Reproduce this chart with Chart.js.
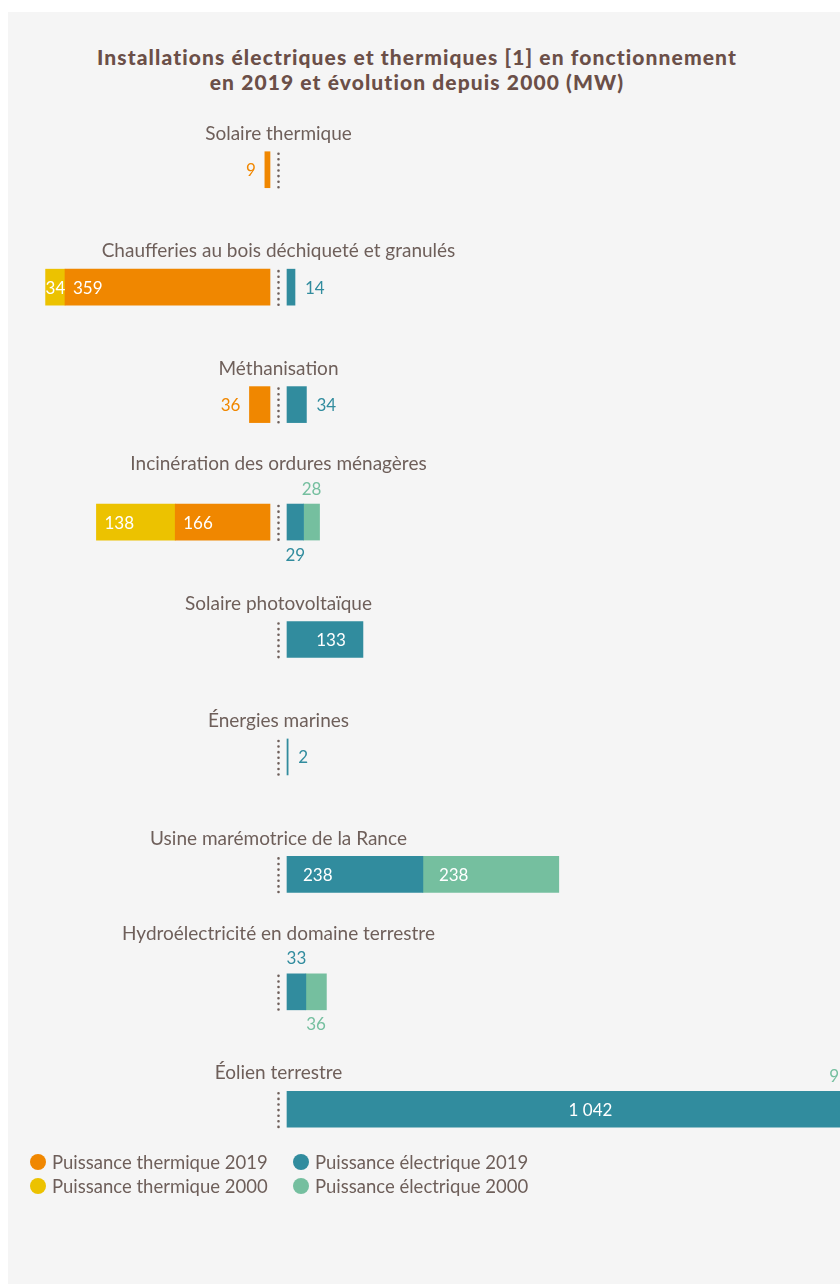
<!DOCTYPE html>
<html lang="fr">
<head>
<meta charset="utf-8">
<script src="https://cdn.jsdelivr.net/npm/chart.js@4.4.1/dist/chart.umd.min.js"></script>
<style>
  html, body { margin: 0; padding: 0; background: #fff; }
  body { width: 840px; height: 1284px; position: relative; overflow: hidden; font-family: Lato, sans-serif; }
  #card { position: absolute; left: 8px; top: 12px; right: 0; bottom: 0; background: #f5f5f5; }
  #title { position: absolute; left: 0; width: 834px; top: 44px; text-align: center;
           font-family: "Lato Black", Lato, sans-serif; font-weight: 900; font-size: 21px; line-height: 25px;
           letter-spacing: 1.1px; color: #6b4f48; }
  #chartWrap { position: absolute; left: 0; top: 111px; width: 840px; height: 1057px; }
  #legend { position: absolute; left: 30px; top: 1150px; display: grid;
            grid-template-columns: 263px auto; grid-auto-rows: 24px; }
  .item { display: flex; align-items: center; font-size: 18.5px; color: #6e5f5a; white-space: nowrap; }
  .dot { width: 16px; height: 16px; border-radius: 50%; margin-right: 6px; }
</style>
</head>
<body>
<div id="card"></div>
<div id="title">Installations électriques et thermiques [1] en fonctionnement<br>en 2019 et évolution depuis 2000 (MW)</div>
<div id="chartWrap"><canvas id="chart" width="840" height="1057"></canvas></div>
<div id="legend"></div>

<script>
const categories = [
  'Solaire thermique',
  'Chaufferies au bois déchiqueté et granulés',
  'Méthanisation',
  'Incinération des ordures ménagères',
  'Solaire photovoltaïque',
  'Énergies marines',
  'Usine marémotrice de la Rance',
  'Hydroélectricité en domaine terrestre',
  'Éolien terrestre'
];
const thermal2019 = [9, 359, 36, 166, null, null, null, null, null];
const thermal2000 = [null, 34, null, 138, null, null, null, null, null];
const elec2019 = [null, 14, 34, 29, 133, 2, 238, 33, 1042];
const elec2000 = [null, null, null, 28, null, null, 238, 36, 9];

const seriesNames = ['Puissance thermique 2019', 'Puissance thermique 2000', 'Puissance électrique 2019', 'Puissance électrique 2000'];
const colors = ['#f08700', '#ecc200', '#318c9e', '#75bf9f'];
const TEXT = '#6e5f5a';

// layout: thermal grows left from x=270, electric grows right from x=287
const W = 840;
const ZERO_T = 270, ZERO_E = 287, PX_PER_MW = 0.571;
const BAR = 36;
// where the 2019 label goes when both electric segments are too thin (else 2000 takes that side)
const label2019Above = [false, false, false, false, false, false, false, true, false];

function fmt(v) {
  if (v >= 1000) return Math.floor(v / 1000) + ' ' + String(v % 1000).padStart(3, '0');
  return String(v);
}

const rowLabels = {
  id: 'rowLabels',
  afterDatasetsDraw(chart) {
    const ctx = chart.ctx;
    const xT = chart.scales.xT, xE = chart.scales.xE, y = chart.scales.y;
    const mid = (xT.getPixelForValue(0) + xE.getPixelForValue(0)) / 2;
    ctx.save();
    ctx.textBaseline = 'middle';

    categories.forEach((name, i) => {
      const yc = y.getPixelForValue(i);
      const top = yc - BAR / 2, bottom = yc + BAR / 2;

      // dotted centre line
      ctx.strokeStyle = TEXT;
      ctx.lineWidth = 2.6;
      ctx.lineCap = 'round';
      ctx.setLineDash([0, 5.6]);
      ctx.beginPath();
      ctx.moveTo(mid, top + 2);
      ctx.lineTo(mid, bottom);
      ctx.stroke();
      ctx.setLineDash([]);

      let aboveNearMid = false;
      ctx.font = '17px Lato';

      [[0, 1, -1, xT], [2, 3, 1, xE]].forEach(([a, b, dir, scale]) => {
        const zero = scale.getPixelForValue(0);
        const segs = [a, b].map(d => {
          const v = chart.data.datasets[d].data[i];
          if (v == null) return null;
          const el = chart.getDatasetMeta(d).data[i];
          const p = el.getProps(['x', 'base'], true);
          return { d, v, left: Math.min(p.x, p.base), right: Math.max(p.x, p.base) };
        }).filter(Boolean);
        if (!segs.length) return;
        const outer = dir < 0 ? Math.min(...segs.map(s => s.left)) : Math.max(...segs.map(s => s.right));
        const stackW = Math.abs(outer - zero);

        segs.forEach(s => {
          const txt = fmt(s.v);
          const tw = ctx.measureText(txt).width;
          const w = s.right - s.left;
          if (stackW > 60 && w > 15) {
            ctx.fillStyle = '#fff';
            if (dir < 0) {
              ctx.textAlign = 'left';
              ctx.fillText(txt, s.left + Math.max(0, Math.min(8, (w - tw) / 2)), yc + 1);
            } else if (w > 400 || w < 100) {
              ctx.textAlign = 'center';
              ctx.fillText(txt, Math.min((s.left + s.right) / 2 + 6, W - tw), yc + 1);
            } else {
              ctx.textAlign = 'left';
              ctx.fillText(txt, s.left + 16, yc + 1);
            }
            return;
          }
          ctx.fillStyle = colors[s.d];
          if (segs.length === 1) {
            if (dir < 0) { ctx.textAlign = 'right'; ctx.fillText(txt, s.left - 9, yc + 1); }
            else { ctx.textAlign = 'left'; ctx.fillText(txt, s.right + 10, yc + 1); }
            return;
          }
          const is2019 = s.d === a;
          const above = is2019 ? label2019Above[i] : !label2019Above[i];
          const cx = Math.min((s.left + s.right) / 2, W - tw / 2 - 1);
          ctx.textAlign = 'center';
          ctx.fillText(txt, cx, above ? top - 15 : bottom + 15);
          if (above && Math.abs(cx - mid) < 150) aboveNearMid = true;
        });
      });

      ctx.font = '19px Lato';
      ctx.fillStyle = TEXT;
      ctx.textAlign = 'center';
      ctx.fillText(name, mid, top - (aboveNearMid ? 40 : 18));
    });
    ctx.restore();
  }
};

const ctx = document.getElementById('chart').getContext('2d');
const chart = new Chart(ctx, {
  type: 'bar',
  data: {
    labels: categories,
    datasets: [
      { label: seriesNames[0], data: thermal2019, xAxisID: 'xT', stack: 'T' },
      { label: seriesNames[1], data: thermal2000, xAxisID: 'xT', stack: 'T' },
      { label: seriesNames[2], data: elec2019, xAxisID: 'xE', stack: 'E' },
      { label: seriesNames[3], data: elec2000, xAxisID: 'xE', stack: 'E' }
    ].map((ds, k) => Object.assign(ds, {
      backgroundColor: colors[k],
      borderWidth: 0,
      barThickness: BAR,
      grouped: false
    }))
  },
  options: {
    indexAxis: 'y',
    responsive: false,
    animation: false,
    devicePixelRatio: 1,
    events: [],
    layout: { padding: 0 },
    scales: {
      y: { type: 'category', display: false, offset: true },
      xT: {
        type: 'linear', display: false, stacked: true, reverse: true,
        min: (ZERO_T - W) / PX_PER_MW, max: ZERO_T / PX_PER_MW
      },
      xE: {
        type: 'linear', display: false, stacked: true,
        min: -ZERO_E / PX_PER_MW, max: (W - ZERO_E) / PX_PER_MW
      }
    },
    plugins: { legend: { display: false }, tooltip: { enabled: false } }
  },
  plugins: [rowLabels]
});

// legend, two columns: thermique | électrique
const legend = document.getElementById('legend');
[0, 2, 1, 3].forEach(k => {
  const item = document.createElement('div');
  item.className = 'item';
  item.innerHTML = `<span class="dot" style="background:${colors[k]}"></span>${seriesNames[k]}`;
  legend.appendChild(item);
});
</script>
</body>
</html>
